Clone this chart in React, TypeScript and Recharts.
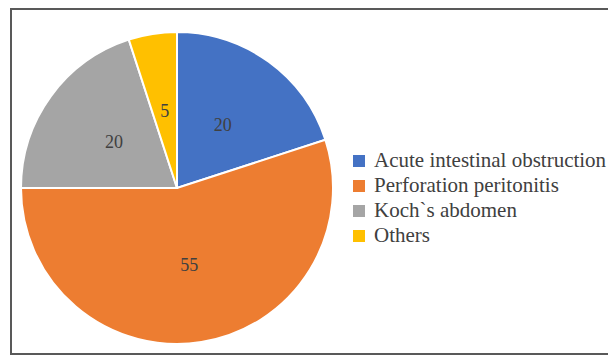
import { Cell, Legend, Pie, PieChart } from 'recharts';

const categories = ['Acute intestinal obstruction', 'Perforation peritonitis', 'Koch`s abdomen', 'Others'];
const values = [20, 55, 20, 5];
const colors = ['#4472C4', '#ED7D31', '#A5A5A5', '#FFC000'];

const data = categories.map((name, i) => ({ name, value: values[i] }));

const RADIAN = Math.PI / 180;
const FONT = 'Liberation Serif, Tinos, Times New Roman, DejaVu Serif, serif';

const renderLabel = (props: any) => {
  const { cx, cy, midAngle, outerRadius, value } = props;
  const r = outerRadius * 0.5;
  const x = cx + r * Math.cos(-midAngle * RADIAN);
  const y = cy + r * Math.sin(-midAngle * RADIAN);
  return (
    <text
      x={x}
      y={y}
      fill="#404040"
      textAnchor="middle"
      dominantBaseline="central"
      style={{ fontFamily: FONT, fontSize: 18 }}
    >
      {value}
    </text>
  );
};

const renderLegend = () => (
  <div style={{ fontFamily: FONT, fontSize: 21, color: '#404040', whiteSpace: 'nowrap' }}>
    {categories.map((name, i) => (
      <div key={name} style={{ display: 'flex', alignItems: 'center', height: 25 }}>
        <span
          style={{ display: 'inline-block', width: 12, height: 12, background: colors[i], marginRight: 9 }}
        />
        <span>{name}</span>
      </div>
    ))}
  </div>
);

export default function App() {
  return (
    <div style={{ position: 'absolute', left: 0, top: 0, width: 608, height: 356, background: '#fff', overflow: 'hidden' }}>
      <div
        style={{
          position: 'absolute',
          left: 10,
          top: 8,
          width: 640,
          height: 343,
          border: '2px solid #595959',
        }}
      />
      <div style={{ position: 'absolute', left: 0, top: 0 }}>
        <PieChart width={608} height={356}>
          <Pie
            data={data}
            dataKey="value"
            nameKey="name"
            cx={172}
            cy={183}
            outerRadius={156}
            startAngle={90}
            endAngle={-270}
            stroke="#fff"
            strokeWidth={2}
            label={renderLabel}
            labelLine={false}
            isAnimationActive={false}
          >
            {data.map((d, i) => (
              <Cell key={d.name} fill={colors[i]} />
            ))}
          </Pie>
          <Legend
            content={renderLegend}
            wrapperStyle={{ position: 'absolute', left: 353, top: 148, width: 300 }}
          />
        </PieChart>
      </div>
    </div>
  );
}
